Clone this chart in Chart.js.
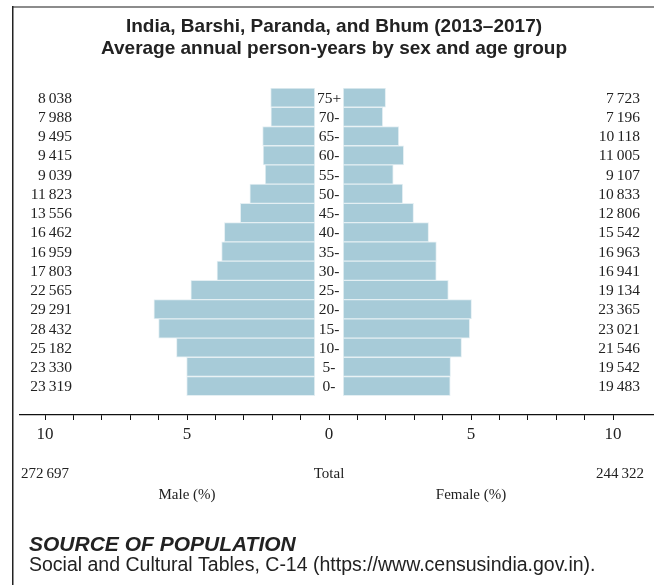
<!DOCTYPE html>
<html>
<head>
<meta charset="utf-8">
<script src="https://cdn.jsdelivr.net/npm/chart.js@4.4.0/dist/chart.umd.min.js"></script>
<style>
  html, body { margin: 0; padding: 0; background: #fff; }
  #wrap { width: 654px; height: 585px; }
</style>
</head>
<body>
<div id="wrap"><canvas id="pyramid" width="654" height="585"></canvas></div>
<script>
// age groups, top row first
var ageGroups = ['75+', '70-', '65-', '60-', '55-', '50-', '45-', '40-', '35-', '30-', '25-', '20-', '15-', '10-', '5-', '0-'];
var maleCounts = [8038, 7988, 9495, 9415, 9039, 11823, 13556, 16462, 16959, 17803, 22565, 29291, 28432, 25182, 23330, 23319];
var femaleCounts = [7723, 7196, 10118, 11005, 9107, 10833, 12806, 15542, 16963, 16941, 19134, 23365, 23021, 21546, 19542, 19483];
var totals = [272697, 244322]; // male, female
var axisTicks = [-10, -5, 0, 5, 10];

var grandTotal = totals[0] + totals[1];
var gap = 0.5; // half width of the age label column, in %

function fmt(n) {
  return String(n).replace(/\B(?=(\d{3})+(?!\d))/g, '\u2009');
}

var malePct = maleCounts.map(function (v) { return v / grandTotal * 100; });
var femalePct = femaleCounts.map(function (v) { return v / grandTotal * 100; });

var serif = '"Liberation Serif", "Times New Roman", serif';
var sans = '"Liberation Sans", Arial, sans-serif';

var extras = {
  id: 'extras',
  afterDraw: function (chart) {
    var c = chart.ctx;
    var xs = chart.scales.x, ys = chart.scales.y;
    c.save();

    // frame
    c.fillStyle = '#8c8c8c';
    c.fillRect(13, 6, 654 - 13, 2);
    c.fillStyle = '#222';
    c.fillRect(12, 6, 1.5, 585);

    // title
    c.fillStyle = '#222';
    c.textAlign = 'center';
    c.textBaseline = 'middle';
    c.font = 'bold 19px ' + sans;
    c.fillText('India, Barshi, Paranda, and Bhum (2013\u20132017)', 334, 27);
    c.fillText('Average annual person-years by sex and age group', 334, 49);

    // age labels and counts
    var x0 = xs.getPixelForValue(0);
    c.font = '15.5px ' + serif;
    ageGroups.forEach(function (g, i) {
      var y = ys.getPixelForValue(i) + 1;
      c.textAlign = 'center';
      c.fillText(g, x0, y);
      c.textAlign = 'right';
      c.fillText(fmt(maleCounts[i]), 72, y);
      c.fillText(fmt(femaleCounts[i]), 640, y);
    });

    // totals row
    c.font = '15px ' + serif;
    c.textAlign = 'left';
    c.fillText(fmt(totals[0]), 21, 474);
    c.textAlign = 'center';
    c.fillText('Total', x0, 474);
    c.textAlign = 'right';
    c.fillText(fmt(totals[1]), 644, 474);
    c.textAlign = 'center';
    c.fillText('Male (%)', xs.getPixelForValue(-5), 495);
    c.fillText('Female (%)', xs.getPixelForValue(5), 495);

    // source
    c.textAlign = 'left';
    c.font = 'italic bold 21px ' + sans;
    c.fillText('SOURCE OF POPULATION', 29, 545);
    c.font = '19.5px ' + sans;
    c.fillText('Social and Cultural Tables, C-14 (https://www.censusindia.gov.in).', 29, 566);
    c.restore();
  }
};

var ctx = document.getElementById('pyramid').getContext('2d');
var chart = new Chart(ctx, {
  type: 'bar',
  data: {
    labels: ageGroups.concat(['']), // empty row under the bars
    datasets: [{
      label: 'Male',
      data: malePct.map(function (p) { return [-gap - p, -gap]; }),
      backgroundColor: '#a7cbd8',
      borderColor: '#e4eff3',
      borderWidth: 1,
      borderSkipped: false
    }, {
      label: 'Female',
      data: femalePct.map(function (p) { return [gap, gap + p]; }),
      backgroundColor: '#a7cbd8',
      borderColor: '#e4eff3',
      borderWidth: 1,
      borderSkipped: false
    }]
  },
  options: {
    indexAxis: 'y',
    responsive: false,
    devicePixelRatio: 1,
    animation: false,
    grouped: false,
    barPercentage: 1,
    categoryPercentage: 1,
    layout: { padding: { top: 88, left: 20, right: 0, bottom: 140 } },
    plugins: { legend: { display: false }, tooltip: { enabled: false } },
    scales: {
      y: { display: false },
      x: {
        min: -(329 - 20) / 28.4,
        max: (654 - 329) / 28.4,
        afterBuildTicks: function (scale) {
          scale.ticks = [];
          for (var v = axisTicks[0]; v <= axisTicks[axisTicks.length - 1]; v++) scale.ticks.push({ value: v });
        },
        afterFit: function (scale) { scale.height = 30; },
        border: { display: true, color: '#111', width: 1.2 },
        grid: { drawOnChartArea: false, color: '#111', tickLength: 5, lineWidth: 1 },
        ticks: {
          autoSkip: false,
          maxRotation: 0,
          padding: 4,
          color: '#222',
          font: { family: serif, size: 17 },
          callback: function (v) { return axisTicks.indexOf(v) >= 0 ? Math.abs(v) : ''; }
        }
      }
    }
  },
  plugins: [extras]
});
</script>
</body>
</html>
